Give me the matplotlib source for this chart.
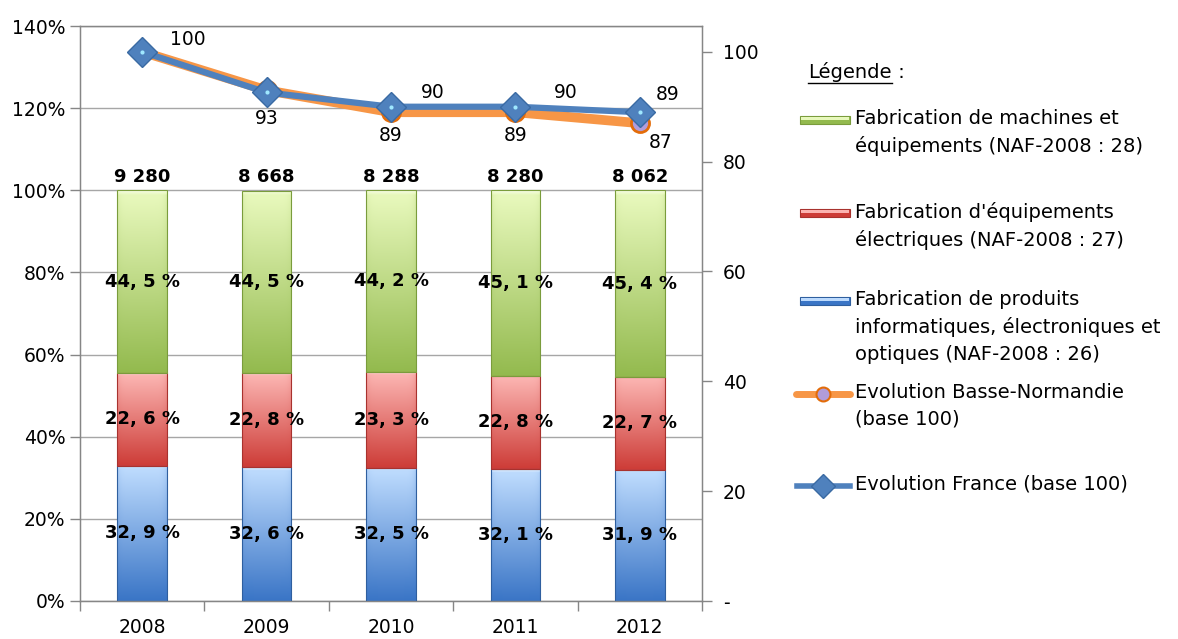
import numpy as np
import matplotlib
matplotlib.use("Agg")
import matplotlib.pyplot as plt
from matplotlib.colors import LinearSegmentedColormap
from matplotlib.lines import Line2D
from matplotlib.patches import Rectangle

plt.rcParams["font.family"] = ["DejaVu Sans"]

# ---- data ----
years = ["2008", "2009", "2010", "2011", "2012"]
totals = [9280, 8668, 8288, 8280, 8062]
share_informatique = [32.9, 32.6, 32.5, 32.1, 31.9]   # NAF-2008 : 26
share_electrique = [22.6, 22.8, 23.3, 22.8, 22.7]     # NAF-2008 : 27
share_machines = [44.5, 44.5, 44.2, 45.1, 45.4]       # NAF-2008 : 28
evol_basse_normandie = [100, 93, 89, 89, 87]
evol_france = [100, 92.6, 90, 90, 89]
labels_france = ["100", None, "90", "90", "89"]
labels_bn = [None, "93", "89", "89", "87"]

legend_labels = [
    "Fabrication de machines et\néquipements (NAF-2008 : 28)",
    "Fabrication d'équipements\nélectriques (NAF-2008 : 27)",
    "Fabrication de produits\ninformatiques, électroniques et\noptiques (NAF-2008 : 26)",
    "Evolution Basse-Normandie\n(base 100)",
    "Evolution France (base 100)",
]

# ---- style ----
GREEN = ("#e7f8bb", "#93ba4e", "#7a9c3c")   # top, bottom, edge
RED = ("#fbb3b0", "#cd3c37", "#a8322e")
BLUE = ("#bcdafd", "#3a75c6", "#2f5f9f")
ORANGE = "#f79646"
FR_BLUE = "#4f81bd"
GRID = "#a6a6a6"
FS = 13.5

fig = plt.figure(figsize=(11.78, 6.39), dpi=100)
ax = fig.add_axes([80 / 1178, 1 - 601 / 639, 622 / 1178, 575 / 639])
x = np.arange(len(years))
width = 0.40


def shaded(rect, top, bottom, edge):
    """Fill a bar rectangle with a vertical gradient, a top bevel and a soft border."""
    x0, y0 = rect.get_x(), rect.get_y()
    w, h = rect.get_width(), rect.get_height()
    cmap = LinearSegmentedColormap.from_list("seg", [bottom, top, "#ffffff"])
    v = np.linspace(0, 1, 400)
    grad = 0.5 * np.clip(v * 1.04, 0, 1)
    # bright bevel strip along the top edge
    bevel = np.clip((v - 0.975) / 0.025, 0, 1) * 0.35
    grad = grad + bevel
    u = np.linspace(-1, 1, 60)
    side = 1 - 0.15 * np.abs(u) ** 8
    img = grad[:, None] * side[None, :]
    im = ax.imshow(img, extent=[x0, x0 + w, y0, y0 + h], origin="lower",
                   cmap=cmap, vmin=0, vmax=1, aspect="auto",
                   interpolation="bilinear", zorder=2)
    im.set_clip_path(rect)
    rect.set_facecolor("none")
    rect.set_edgecolor(edge)
    rect.set_linewidth(0.8)
    rect.set_zorder(3)


bottoms = np.zeros(len(years))
for vals, cols in [(share_informatique, BLUE), (share_electrique, RED),
                   (share_machines, GREEN)]:
    bars = ax.bar(x, vals, width, bottom=bottoms, zorder=3)
    for rect in bars:
        shaded(rect, *cols)
    for xi, b, v in zip(x, bottoms, vals):
        txt = f"{v:.1f}".replace(".", ", ") + " %"
        ax.text(xi, b + v / 2, txt, ha="center", va="center",
                fontsize=13, fontweight="bold", zorder=5)
    bottoms = bottoms + np.array(vals)

for xi, t in zip(x, totals):
    ax.annotate(f"{t:,}".replace(",", " "), (xi, 100), xytext=(0, 3),
                textcoords="offset points", ha="center", va="bottom",
                fontsize=13, fontweight="bold", zorder=5)

ax.set_xlim(-0.5, len(years) - 0.5)
ax.set_ylim(0, 140)
ax.set_yticks(np.arange(0, 141, 20))
ax.set_yticklabels([f"{v}%" for v in range(0, 141, 20)])
ax.set_xticks(x)
ax.set_xticklabels(years)
ax.set_xticks(np.arange(-0.5, len(years)), minor=True)
ax.tick_params(axis="x", which="major", length=0, labelsize=FS, pad=12)
ax.tick_params(axis="x", which="minor", length=7, color="#868686", width=1)
ax.tick_params(axis="y", length=7, color="#868686", width=1, labelsize=FS)
ax.yaxis.grid(True, color=GRID, linewidth=1, zorder=0)
ax.set_axisbelow(True)
for s in ax.spines.values():
    s.set_color("#868686")
    s.set_linewidth(1)

# ---- index lines on secondary axis ----
ax2 = ax.twinx()
ax2.set_ylim(0, 104.7)
ax2.set_yticks(np.arange(0, 101, 20))
ax2.set_yticklabels(["-"] + [str(v) for v in range(20, 101, 20)])
ax2.tick_params(axis="y", length=7, color="#868686", width=1,
                labelsize=FS, pad=8)
for s in ax2.spines.values():
    s.set_color("#868686")

ax2.plot(x, evol_basse_normandie, color=ORANGE, lw=7, solid_capstyle="round",
         marker="o", ms=13, mfc="#b19cd9", mec="#e36c09", mew=2, zorder=4)
ax2.plot(x, evol_france, color=FR_BLUE, lw=4.5, marker="D", ms=15,
         mfc="#4f81bd", mec="#3a6aa3", mew=1, zorder=5)
ax2.plot(x, evol_france, ls="none", marker="o", ms=3, mfc="#9fe8ff",
         mec="none", zorder=6)

fr_offsets = [(33, 9), None, (30, 10), (36, 10), (20, 13)]
for xi, v, lab, off in zip(x, evol_france, labels_france, fr_offsets):
    if lab:
        ax2.annotate(lab, (xi, v), xytext=off, textcoords="offset points",
                     ha="center", va="center", fontsize=FS)
bn_offsets = [None, (0, -20), (0, -17), (0, -17), (15, -14)]
for xi, v, lab, off in zip(x, evol_basse_normandie, labels_bn, bn_offsets):
    if lab:
        ax2.annotate(lab, (xi, v), xytext=off, textcoords="offset points",
                     ha="center", va="center", fontsize=FS)

# ---- legend panel ----
LFS = 14
t = fig.text(808 / 1178, 1 - 72 / 639, "Légende", fontsize=LFS, va="center")
fig.canvas.draw()
bb = t.get_window_extent(fig.canvas.get_renderer())
fig.text(bb.x1 / 1178, 1 - 72 / 639, " :", fontsize=LFS, va="center")
fig.add_artist(Line2D([bb.x0 / 1178, bb.x1 / 1178],
                      [(bb.y0 - 1) / 639] * 2, color="black", lw=1))

entry_y = [120, 213, 301, 394, 486]
patch_cols = [GREEN, RED, BLUE]
for i, (yy, lab) in enumerate(zip(entry_y, legend_labels)):
    fy = 1 - yy / 639
    fig.text(855 / 1178, fy + 11 / 639, lab, fontsize=LFS, va="top",
             linespacing=1.5)
    if i < 3:
        top, bottom, edge = patch_cols[i]
        fig.add_artist(Rectangle((800 / 1178, fy - 4 / 639), 50 / 1178, 8 / 639,
                                 facecolor=bottom, edgecolor=edge, lw=0.8,
                                 transform=fig.transFigure))
        fig.add_artist(Rectangle((801 / 1178, fy), 48 / 1178, 3 / 639,
                                 facecolor=top, edgecolor="none",
                                 transform=fig.transFigure))
    elif i == 3:
        fig.add_artist(Line2D([796 / 1178, 850 / 1178], [fy, fy], color=ORANGE,
                              lw=5, solid_capstyle="round",
                              transform=fig.transFigure))
        fig.add_artist(Line2D([823 / 1178], [fy], ls="none", marker="o",
                              ms=10, mfc="#b19cd9", mec="#e36c09", mew=1.5,
                              transform=fig.transFigure))
    else:
        fig.add_artist(Line2D([797 / 1178, 850 / 1178], [fy, fy], color=FR_BLUE,
                              lw=4, transform=fig.transFigure))
        fig.add_artist(Line2D([823 / 1178], [fy], ls="none", marker="D",
                              ms=12, mfc="#4f81bd", mec="#3a6aa3", mew=1,
                              transform=fig.transFigure))

fig.savefig("out.png", dpi=100)
